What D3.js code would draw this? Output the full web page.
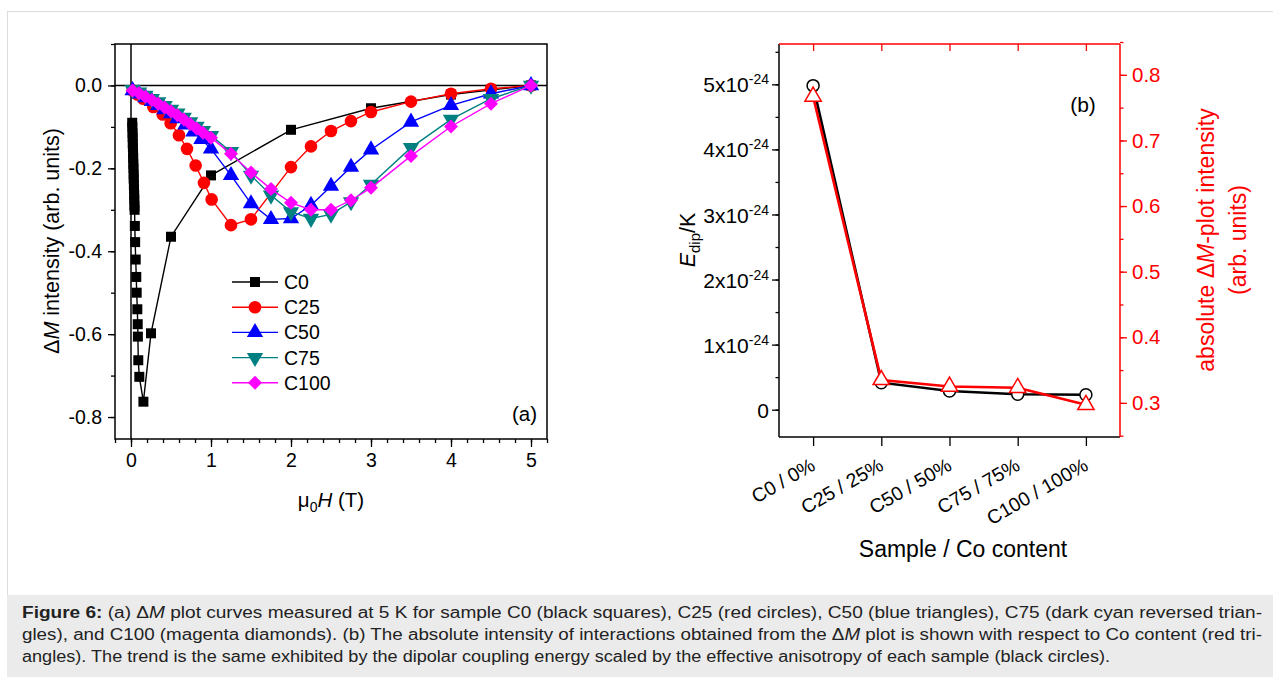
<!DOCTYPE html>
<html>
<head>
<meta charset="utf-8">
<script src="https://cdn.jsdelivr.net/npm/d3@7/dist/d3.min.js"></script>
<style>
body { margin: 0; background: #fff; }
text { font-family: "Liberation Sans", Arial, sans-serif; }
</style>
</head>
<body>
<div id="chart"></div>
<script>
// ---- panel (a) data: field (T) and delta M ----
const c0H = [0.015, 0.017, 0.019, 0.021, 0.022, 0.024, 0.026, 0.027, 0.029, 0.031, 0.033, 0.034, 0.036, 0.038, 0.040, 0.041, 0.043, 0.045,
             0.048, 0.052, 0.059, 0.066, 0.071, 0.079, 0.084, 0.086, 0.091, 0.104, 0.155, 0.25, 0.5, 1, 2, 3, 4, 5]
const c0M = [-0.09, -0.10, -0.115, -0.125, -0.14, -0.15, -0.165, -0.175, -0.19, -0.20, -0.215, -0.225, -0.24, -0.25, -0.265, -0.275, -0.29, -0.30,
             -0.339, -0.378, -0.42, -0.462, -0.50, -0.54, -0.576, -0.606, -0.663, -0.703, -0.763, -0.598, -0.365, -0.217, -0.107, -0.055, -0.022, 0]

const c25H = [0.02, 0.08, 0.154, 0.279, 0.396, 0.496, 0.6, 0.7, 0.808, 0.912, 1.008, 1.25, 1.5, 2, 2.25, 2.5, 2.75, 3, 3.5, 4, 4.5, 5]
const c25M = [-0.012, -0.022, -0.032, -0.052, -0.07, -0.091, -0.12, -0.153, -0.193, -0.235, -0.275, -0.337, -0.323, -0.197, -0.147, -0.11, -0.086, -0.064, -0.039, -0.02, -0.008, 0]

const c50H = [0.02, 0.1, 0.18, 0.26, 0.34, 0.42, 0.5, 0.58, 0.68, 0.78, 0.88, 1.0, 1.25, 1.5, 1.75, 2, 2.25, 2.5, 2.75, 3, 3.5, 4, 4.5, 5]
const c50M = [-0.012, -0.02, -0.029, -0.038, -0.048, -0.058, -0.068, -0.08, -0.095, -0.112, -0.13, -0.153, -0.217, -0.285, -0.323, -0.321, -0.289, -0.243, -0.197, -0.155, -0.088, -0.048, -0.02, 0]

const c75H = [0.02, 0.1, 0.18, 0.26, 0.34, 0.42, 0.5, 0.58, 0.66, 0.74, 0.82, 0.9, 1.0, 1.25, 1.5, 1.75, 2, 2.25, 2.5, 2.75, 3, 3.5, 4, 4.5, 5]
const c75M = [-0.01, -0.016, -0.024, -0.032, -0.04, -0.049, -0.058, -0.067, -0.077, -0.088, -0.099, -0.109, -0.121, -0.16, -0.217, -0.265, -0.305, -0.321, -0.311, -0.281, -0.239, -0.15, -0.082, -0.032, 0]

const c100H = [0.02, 0.1, 0.18, 0.26, 0.34, 0.42, 0.5, 0.58, 0.66, 0.74, 0.82, 0.9, 1.0, 1.25, 1.5, 1.75, 2, 2.25, 2.5, 2.75, 3, 3.5, 4, 4.5, 5]
const c100M = [-0.012, -0.019, -0.027, -0.035, -0.044, -0.053, -0.062, -0.072, -0.082, -0.093, -0.104, -0.114, -0.126, -0.165, -0.21, -0.25, -0.283, -0.3, -0.3, -0.277, -0.247, -0.17, -0.099, -0.044, 0]

const seriesNames = ["C0", "C25", "C50", "C75", "C100"]

// ---- panel (b) data ----
const samples = ["C0 / 0%", "C25 / 25%", "C50 / 50%", "C75 / 75%", "C100 / 100%"]
const edip = [4.98, 0.415, 0.287, 0.236, 0.23]          // x 1e-24
const absInt = [0.767, 0.335, 0.325, 0.323, 0.297]

const yTicksA = [0, -0.2, -0.4, -0.6, -0.8]
const xTicksA = [0, 1, 2, 3, 4, 5]
const yTicksE = [0, 1, 2, 3, 4, 5]
const yTicksR = [0.3, 0.4, 0.5, 0.6, 0.7, 0.8]

const W = 1273, H = 677
const svg = d3.select("#chart").append("svg").attr("width", W).attr("height", H)

// plain hyphen minus, like the original
const fmt1 = d => d3.format(".1f")(d).replace("\u2212", "-")

// figure frame
svg.append("rect").attr("x", 7.5).attr("y", 11.5).attr("width", 1270).attr("height", 620)
    .attr("fill", "#fff").attr("stroke", "#dcdcdc")

// ================= panel (a) =================
const x = d3.scaleLinear().domain([-0.2, 5.2]).range([115, 547])
const y = d3.scaleLinear().domain([-0.853, 0.1]).range([439, 44])

const axA = svg.append("g")
axA.append("g").attr("transform", "translate(0,439)")
    .call(d3.axisBottom(x).tickValues(d3.range(-0.2, 5.21, 0.2)).tickSize(4).tickFormat(""))
axA.append("g").attr("transform", "translate(0,439)")
    .call(d3.axisBottom(x).tickValues(xTicksA).tickSize(8).tickPadding(6).tickFormat(d3.format("d")))
axA.append("g").attr("transform", "translate(115,0)")
    .call(d3.axisLeft(y).tickValues(d3.range(-0.8, 0.11, 0.1)).tickSize(4).tickFormat(""))
axA.append("g").attr("transform", "translate(115,0)")
    .call(d3.axisLeft(y).tickValues(yTicksA).tickSize(7).tickPadding(6).tickFormat(fmt1))
axA.selectAll(".domain").remove()
axA.selectAll("line").attr("stroke", "#000").attr("stroke-width", 1.3)
axA.selectAll("text").attr("font-size", 19.5).attr("fill", "#000").style("font-family", "Liberation Sans, Arial")

svg.append("rect").attr("x", 115).attr("y", 44).attr("width", 432).attr("height", 395)
    .attr("fill", "none").attr("stroke", "#000").attr("stroke-width", 1.5)
svg.append("line").attr("x1", 115).attr("x2", 547).attr("y1", y(0)).attr("y2", y(0))
    .attr("stroke", "#000").attr("stroke-width", 1.5)
svg.append("line").attr("x1", x(0)).attr("x2", x(0)).attr("y1", 44).attr("y2", 439)
    .attr("stroke", "#000").attr("stroke-width", 1.5)

const styles = [
    { color: "#000000", sym: d3.symbolSquare, size: 100, rot: 0 },
    { color: "#ff0000", sym: d3.symbolCircle, size: 125, rot: 0 },
    { color: "#0000ff", sym: d3.symbolTriangle, size: 115, rot: 0 },
    { color: "#008080", sym: d3.symbolTriangle, size: 115, rot: 180 },
    { color: "#ff00ff", sym: d3.symbolSquare, size: 98, rot: 45 }
]
const allH = [c0H, c25H, c50H, c75H, c100H]
const allM = [c0M, c25M, c50M, c75M, c100M]

const line = d3.line().x(d => x(d[0])).y(d => y(d[1]))

for (let s = 0; s < 5; s++) {
    const data = allH[s].map((h, i) => [h, allM[s][i]])
    const st = styles[s]
    const g = svg.append("g")
    g.append("path").datum(data).attr("d", line)
        .attr("fill", "none").attr("stroke", st.color).attr("stroke-width", 1.4)
    g.selectAll("path.pt").data(data).enter().append("path")
        .attr("class", "pt")
        .attr("d", d3.symbol().type(st.sym).size(st.size))
        .attr("transform", d => `translate(${x(d[0])},${y(d[1])}) rotate(${st.rot})`)
        .attr("fill", st.color)
}

// legend
const leg = svg.append("g")
seriesNames.forEach((name, i) => {
    const st = styles[i]
    const ly = 282 + i * 25.2
    leg.append("line").attr("x1", 232).attr("x2", 278).attr("y1", ly).attr("y2", ly)
        .attr("stroke", st.color).attr("stroke-width", 1.4)
    leg.append("path").attr("d", d3.symbol().type(st.sym).size(st.size))
        .attr("transform", `translate(255,${ly}) rotate(${st.rot})`).attr("fill", st.color)
    leg.append("text").attr("x", 284).attr("y", ly + 7).attr("font-size", 19.5).text(name)
})

svg.append("text").attr("x", 537).attr("y", 421).attr("text-anchor", "end").attr("font-size", 20.5).text("(a)")

// axis titles (a)
const ttlA = svg.append("text").attr("transform", "translate(59,241) rotate(-90)")
    .attr("text-anchor", "middle").attr("font-size", 21.5)
ttlA.append("tspan").text("Δ")
ttlA.append("tspan").attr("font-style", "italic").text("M")
ttlA.append("tspan").text(" intensity (arb. units)")

const xtA = svg.append("text").attr("x", 331).attr("y", 507).attr("text-anchor", "middle").attr("font-size", 20.5)
xtA.append("tspan").text("μ")
xtA.append("tspan").attr("font-size", 14).attr("dy", 5).text("0")
xtA.append("tspan").attr("font-style", "italic").attr("dy", -5).text("H")
xtA.append("tspan").text(" (T)")

// ================= panel (b) =================
const L = 779, R = 1120, T = 44, B = 437
const xc = d3.scalePoint().domain(samples).range([L, R]).padding(0.5)
const yE = d3.scaleLinear().domain([-0.42, 5.62]).range([B, T])
const yR = d3.scaleLinear().domain([0.248, 0.847]).range([B, T])

const axB = svg.append("g")
// left axis (black)
axB.append("g").attr("transform", `translate(${L},0)`)
    .call(d3.axisLeft(yE).tickValues(d3.range(0, 5.51, 0.5)).tickSize(3.5).tickFormat(""))
const leftMajor = axB.append("g").attr("transform", `translate(${L},0)`)
    .call(d3.axisLeft(yE).tickValues(yTicksE).tickSize(7).tickPadding(6).tickFormat(""))
leftMajor.selectAll(".tick").each(function (d) {
    const t = d3.select(this).append("text").attr("x", -10).attr("dy", "0.36em")
        .attr("text-anchor", "end").attr("font-size", 21).attr("fill", "#000")
    if (d === 0) t.text("0")
    else {
        t.append("tspan").text(d + "x10")
        t.append("tspan").attr("font-size", 14).attr("dy", -8).text("-24")
    }
})
// right axis (red)
const rightMinor = axB.append("g").attr("transform", `translate(${R},0)`)
    .call(d3.axisRight(yR).tickValues(d3.range(0.25, 0.851, 0.05)).tickSize(3.5).tickFormat(""))
const rightMajor = axB.append("g").attr("transform", `translate(${R},0)`)
    .call(d3.axisRight(yR).tickValues(yTicksR).tickSize(7).tickPadding(5).tickFormat(d3.format(".1f")))
rightMajor.selectAll("text").attr("fill", "#ff0000").attr("font-size", 20.5)
// bottom categories
const bottomAx = axB.append("g").attr("transform", `translate(0,${B})`)
    .call(d3.axisBottom(xc).tickSize(9).tickFormat(""))
bottomAx.selectAll(".tick").append("text")
    .attr("transform", "translate(3,32) rotate(-30)")
    .attr("text-anchor", "end").attr("font-size", 19.5).attr("fill", "#000")
    .text(d => d)
// top ticks (red, inside)
const topAx = axB.append("g").attr("transform", `translate(0,${T})`)
    .call(d3.axisTop(xc).tickSize(-7).tickFormat(""))
axB.selectAll(".domain").remove()
axB.selectAll("line").attr("stroke", "#000").attr("stroke-width", 1.3)
rightMinor.selectAll("line").attr("stroke", "#ff0000")
rightMajor.selectAll("line").attr("stroke", "#ff0000")
topAx.selectAll("line").attr("stroke", "#ff0000")
axB.selectAll("text").style("font-family", "Liberation Sans, Arial")

svg.append("line").attr("x1", L).attr("x2", L).attr("y1", T).attr("y2", B).attr("stroke", "#000").attr("stroke-width", 1.5)
svg.append("line").attr("x1", L).attr("x2", R).attr("y1", B).attr("y2", B).attr("stroke", "#000").attr("stroke-width", 1.5)
svg.append("line").attr("x1", L).attr("x2", R).attr("y1", T).attr("y2", T).attr("stroke", "#ff0000").attr("stroke-width", 1.5)
svg.append("line").attr("x1", R).attr("x2", R).attr("y1", T).attr("y2", B).attr("stroke", "#ff0000").attr("stroke-width", 1.5)

const eData = samples.map((s, i) => [s, edip[i]])
const rData = samples.map((s, i) => [s, absInt[i]])

svg.append("path").datum(eData)
    .attr("d", d3.line().x(d => xc(d[0])).y(d => yE(d[1])))
    .attr("fill", "none").attr("stroke", "#000").attr("stroke-width", 2.6)
svg.append("path").datum(rData)
    .attr("d", d3.line().x(d => xc(d[0])).y(d => yR(d[1])))
    .attr("fill", "none").attr("stroke", "#ff0000").attr("stroke-width", 2.6)

svg.selectAll("circle.e").data(eData).enter().append("circle")
    .attr("cx", d => xc(d[0])).attr("cy", d => yE(d[1])).attr("r", 6)
    .attr("fill", "#fff").attr("stroke", "#000").attr("stroke-width", 1.5)
svg.selectAll("path.r").data(rData).enter().append("path")
    .attr("d", d3.symbol().type(d3.symbolTriangle).size(115))
    .attr("transform", d => `translate(${xc(d[0])},${yR(d[1])})`)
    .attr("fill", "#fff").attr("stroke", "#ff0000").attr("stroke-width", 1.5)

svg.append("text").attr("x", 1083).attr("y", 112).attr("text-anchor", "middle").attr("font-size", 21).text("(b)")

const ytE = svg.append("text").attr("transform", "translate(695,240) rotate(-90)")
    .attr("text-anchor", "middle").attr("font-size", 21.5)
ytE.append("tspan").attr("font-style", "italic").text("E")
ytE.append("tspan").attr("font-size", 15).attr("dy", 5).text("dip")
ytE.append("tspan").attr("dy", -5).text("/K")

const ytR = svg.append("text").attr("transform", "translate(1214,240) rotate(-90)")
    .attr("text-anchor", "middle").attr("font-size", 23).attr("fill", "#ff0000")
ytR.append("tspan").text("absolute Δ")
ytR.append("tspan").attr("font-style", "italic").text("M")
ytR.append("tspan").text("-plot intensity")
svg.append("text").attr("transform", "translate(1246,240) rotate(-90)")
    .attr("text-anchor", "middle").attr("font-size", 23).attr("fill", "#ff0000").text("(arb. units)")

svg.append("text").attr("x", 963).attr("y", 557).attr("text-anchor", "middle").attr("font-size", 23)
    .text("Sample / Co content")

// ================= caption =================
svg.append("rect").attr("x", 7).attr("y", 595).attr("width", 1266).attr("height", 82).attr("fill", "#ebebeb")
const cap = svg.append("g").attr("font-size", 16).attr("fill", "#222")
const l1 = cap.append("text").attr("x", 22).attr("y", 618).attr("textLength", 1240).attr("lengthAdjust", "spacingAndGlyphs")
l1.append("tspan").attr("font-weight", "bold").text("Figure 6:")
l1.append("tspan").text(" (a) Δ")
l1.append("tspan").attr("font-style", "italic").text("M")
l1.append("tspan").text(" plot curves measured at 5 K for sample C0 (black squares), C25 (red circles), C50 (blue triangles), C75 (dark cyan reversed trian-")
const l2 = cap.append("text").attr("x", 22).attr("y", 640).attr("textLength", 1240).attr("lengthAdjust", "spacingAndGlyphs")
l2.append("tspan").text("gles), and C100 (magenta diamonds). (b) The absolute intensity of interactions obtained from the Δ")
l2.append("tspan").attr("font-style", "italic").text("M")
l2.append("tspan").text(" plot is shown with respect to Co content (red tri-")
cap.append("text").attr("x", 22).attr("y", 662).attr("textLength", 1088).attr("lengthAdjust", "spacingAndGlyphs")
    .text("angles). The trend is the same exhibited by the dipolar coupling energy scaled by the effective anisotropy of each sample (black circles).")
</script>
</body>
</html>
